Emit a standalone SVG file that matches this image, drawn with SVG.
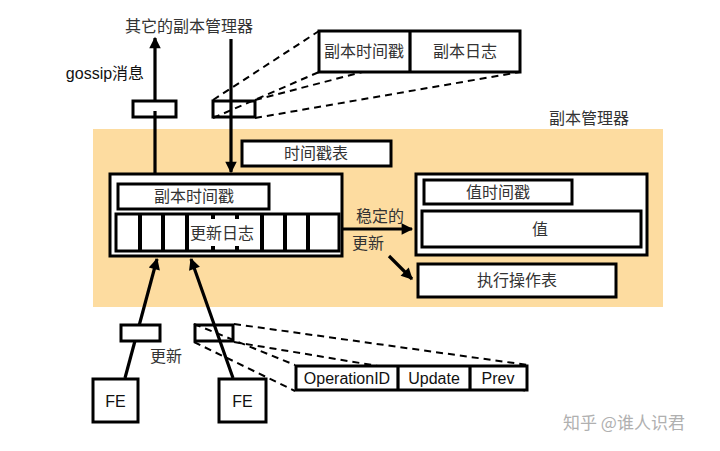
<svg xmlns="http://www.w3.org/2000/svg" width="720" height="451" viewBox="0 0 720 451">
<defs>
<marker id="ah" viewBox="0 0 10 10" refX="9" refY="5" markerWidth="4.6" markerHeight="3.6" orient="auto" markerUnits="strokeWidth">
<path d="M0,0 L10,5 L0,10 z" fill="#000"/>
</marker>
<style>
.bx{fill:#fff;stroke:#000;stroke-width:3}
.t{font-family:"Noto Sans CJK SC","Liberation Sans",sans-serif;font-size:16px;fill:#333;text-anchor:middle}
.l{font-family:"Liberation Sans","Noto Sans CJK SC",sans-serif;font-size:16px;fill:#111;text-anchor:middle}
.ln{stroke:#000;stroke-width:3.2;fill:none}
.ds{stroke:#000;stroke-width:2;fill:none;stroke-dasharray:7,5}
</style>
</defs>
<rect width="720" height="451" fill="#fff"/>
<rect id="rm-bg" x="93" y="129" width="570" height="178" fill="#FDDCA0"/>
<text class="t" x="589" y="124">副本管理器</text>

<g id="connectors">
<line class="ln" x1="155" y1="173" x2="155" y2="38" marker-end="url(#ah)"/>
<line class="ln" x1="231" y1="39" x2="231" y2="172" marker-end="url(#ah)"/>
<line class="ln" x1="343" y1="229" x2="412" y2="229" marker-end="url(#ah)"/>
<line class="ln" x1="389" y1="256" x2="412" y2="279" marker-end="url(#ah)"/>
<line class="ln" x1="125" y1="378" x2="157" y2="259" marker-end="url(#ah)"/>
<line class="ln" x1="233" y1="378" x2="191" y2="259" marker-end="url(#ah)"/>
<line class="ds" x1="213" y1="100" x2="319" y2="31"/>
<line class="ds" x1="213" y1="118" x2="319" y2="72"/>
<line class="ds" x1="255" y1="100" x2="520" y2="31"/>
<line class="ds" x1="255" y1="118" x2="520" y2="72"/>
<line class="ds" x1="194" y1="324" x2="295" y2="365"/>
<line class="ds" x1="194" y1="342" x2="295" y2="391"/>
<line class="ds" x1="234" y1="324" x2="528" y2="365"/>
<line class="ds" x1="234" y1="342" x2="528" y2="391"/>
</g>

<text class="t" x="189" y="32">其它的副本管理器</text>
<text class="l" x="105" y="79">gossip<tspan font-family="Noto Sans CJK SC">消息</tspan></text>

<g id="msg-top-left"><rect class="bx" x="133" y="101" width="43" height="16"/>
<line class="ln" x1="155" y1="111" x2="155" y2="117"/></g>
<g id="msg-top-right"><rect x="213" y="101" width="42" height="16" fill="none" stroke="#000" stroke-width="3"/></g>

<g id="replica-msg">
<rect class="bx" x="319" y="31" width="201" height="41"/>
<line class="ln" x1="410" y1="31" x2="410" y2="72"/>
<text class="t" x="364" y="57">副本时间戳</text>
<text class="t" x="465" y="57">副本日志</text>
</g>

<g id="ts-table">
<rect class="bx" x="242" y="141" width="149" height="25"/>
<text class="t" x="316" y="159">时间戳表</text>
</g>

<g id="replica-box">
<rect class="bx" x="110" y="174" width="232" height="82"/>
<rect class="bx" x="118" y="184" width="151" height="25"/>
<text class="t" x="194" y="202">副本时间戳</text>
<rect class="bx" x="116" y="214" width="223" height="37"/>
<g stroke="#000" stroke-width="4">
<line x1="140" y1="214" x2="140" y2="251"/>
<line x1="163" y1="214" x2="163" y2="251"/>
<line x1="187" y1="214" x2="187" y2="251"/>
<line x1="213" y1="214" x2="213" y2="219"/>
<line x1="213" y1="246" x2="213" y2="251"/>
<line x1="237" y1="214" x2="237" y2="219"/>
<line x1="237" y1="246" x2="237" y2="251"/>
<line x1="262" y1="214" x2="262" y2="251"/>
<line x1="285" y1="214" x2="285" y2="251"/>
<line x1="308" y1="214" x2="308" y2="251"/>
</g>
<text class="t" x="222" y="239">更新日志</text>
</g>

<text class="t" x="380" y="222">稳定的</text>
<text class="t" x="368" y="249">更新</text>

<g id="value-box">
<rect class="bx" x="416" y="174" width="231" height="81"/>
<rect class="bx" x="424" y="180" width="148" height="24"/>
<text class="t" x="498" y="198">值时间戳</text>
<rect class="bx" x="422" y="211" width="219" height="36"/>
<text class="t" x="540" y="235">值</text>
</g>

<g id="exec-table">
<rect class="bx" x="418" y="264" width="198" height="33"/>
<text class="t" x="517" y="286">执行操作表</text>
</g>

<g id="msg-bottom-left"><rect class="bx" x="121" y="325" width="39" height="16"/></g>
<g id="msg-bottom-right"><rect x="195" y="325" width="38" height="16" fill="none" stroke="#000" stroke-width="3"/></g>
<text class="t" x="166" y="362">更新</text>

<g id="fe1">
<rect class="bx" x="93" y="379" width="45" height="43"/>
<text class="l" x="115.5" y="407" font-size="18">FE</text>
</g>
<g id="fe2">
<rect class="bx" x="219" y="379" width="47" height="43"/>
<text class="l" x="242.5" y="407" font-size="18">FE</text>
</g>

<g id="update-msg">
<rect class="bx" x="296" y="366" width="231" height="24"/>
<line class="ln" x1="398" y1="366" x2="398" y2="390"/>
<line class="ln" x1="470" y1="366" x2="470" y2="390"/>
<text class="l" x="347" y="384" font-size="15">OperationID</text>
<text class="l" x="434" y="384" font-size="15">Update</text>
<text class="l" x="498" y="384" font-size="15">Prev</text>
</g>

<text x="624" y="429" font-family="Noto Sans CJK SC, sans-serif" font-size="17" fill="#b0b0b0" text-anchor="middle">知乎 @谁人识君</text>
</svg>
